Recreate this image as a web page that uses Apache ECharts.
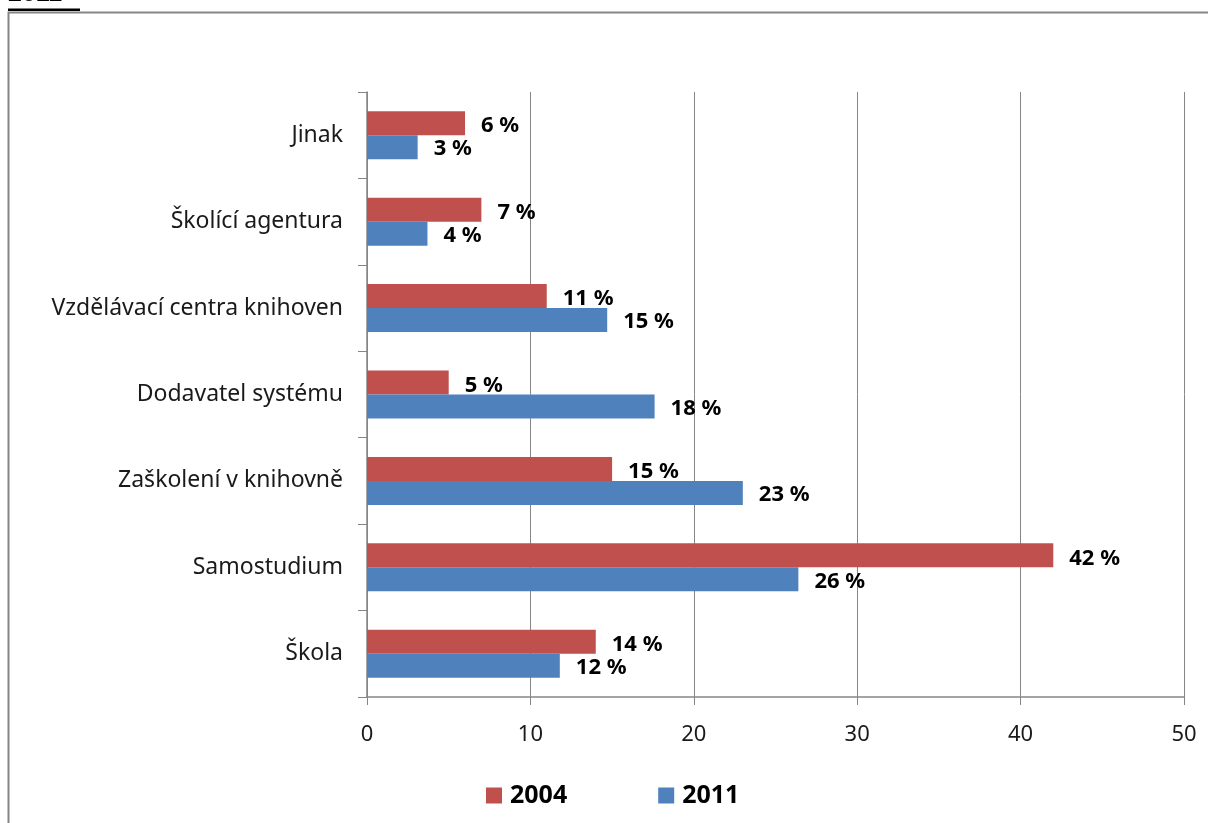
<!DOCTYPE html>
<html>
<head>
<meta charset="utf-8">
<script src="https://cdn.jsdelivr.net/npm/echarts@6/dist/echarts.min.js"></script>
<style>
html,body{margin:0;padding:0;background:#fff;}
#chart{width:1208px;height:823px;}
</style>
</head>
<body>
<div id="chart"></div>
<script>
// Categories listed bottom to top (ECharts y category axis grows upward)
const categories = ['Škola', 'Samostudium', 'Zaškolení v knihovně', 'Dodavatel systému', 'Vzdělávací centra knihoven', 'Školící agentura', 'Jinak'];
const values2004 = [14, 42, 15, 5, 11, 7, 6];
const values2011 = [11.8, 26.4, 23, 17.6, 14.7, 3.7, 3.1];
const xTicks = [0, 10, 20, 30, 40, 50];
const titleText = '2011';

const FONT = 'Noto Sans';
const chart = echarts.init(document.getElementById('chart'));
const labelFmt = p => Math.round(p.value) + ' %';

chart.setOption({
  animation: false,
  textStyle: { fontFamily: FONT },
  graphic: [
    { type: 'rect', shape: { x: 8.5, y: 12.5, width: 1300, height: 900 }, style: { fill: 'none', stroke: '#858585', lineWidth: 2 } },
    { type: 'text', left: 8, top: -18, style: { text: titleText, font: 'bold 25px Liberation Sans', fill: '#000' } },
    { type: 'rect', shape: { x: 8, y: 8.5, width: 72, height: 2.5 }, style: { fill: '#000' } }
  ],
  legend: {
    data: ['2004', '2011'],
    left: 486, top: 783, padding: 0,
    itemWidth: 16, itemHeight: 16, itemGap: 91,
    icon: 'rect',
    textStyle: { fontFamily: FONT, fontWeight: 'bold', fontSize: 25, color: '#000', padding: [0, 0, 0, 3] }
  },
  grid: { left: 367, right: 24, top: 92, bottom: 126, containLabel: false },
  xAxis: {
    type: 'value', min: xTicks[0], max: xTicks[xTicks.length - 1], interval: 10,
    axisLine: { show: true, lineStyle: { color: '#868686', width: 1.5 } },
    axisTick: { show: true, length: 8, lineStyle: { color: '#868686' } },
    splitLine: { show: true, lineStyle: { color: '#868686', width: 1 } },
    axisLabel: { fontSize: 22, color: '#1a1a1a', margin: 27 }
  },
  yAxis: {
    type: 'category', data: categories,
    axisLine: { show: true, lineStyle: { color: '#868686', width: 1.5 } },
    axisTick: { show: true, length: 9, lineStyle: { color: '#868686' } },
    axisLabel: { fontSize: 23, color: '#1a1a1a', margin: 24 }
  },
  series: [
    {
      name: '2004', type: 'bar', data: values2004, barWidth: 24, barGap: '0%',
      itemStyle: { color: '#C0504D' },
      label: { show: true, position: 'right', distance: 16, formatter: labelFmt, fontSize: 22, fontWeight: 'bold', color: '#000', offset: [0, 3] }
    },
    {
      name: '2011', type: 'bar', data: values2011, barWidth: 24, barGap: '0%',
      itemStyle: { color: '#4F81BD' },
      label: { show: true, position: 'right', distance: 16, formatter: labelFmt, fontSize: 22, fontWeight: 'bold', color: '#000', offset: [0, 2] }
    }
  ]
});
</script>
</body>
</html>
